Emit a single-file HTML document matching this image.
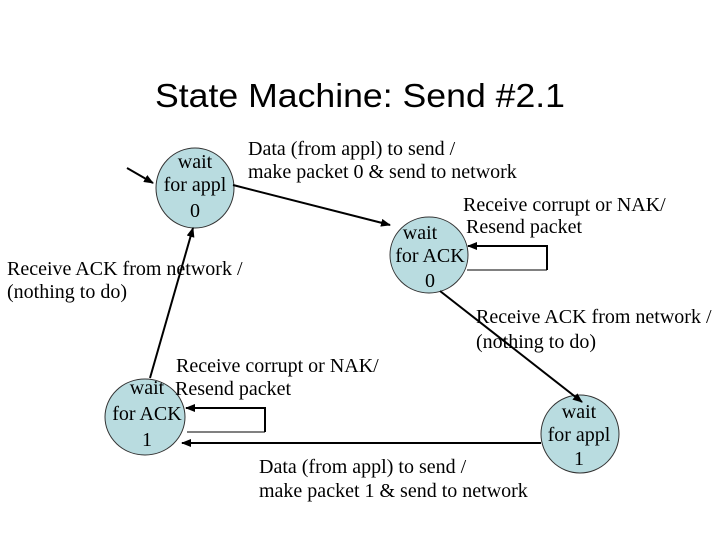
<!DOCTYPE html>
<html><head><style>body{margin:0;background:#fff}svg{display:block}</style></head>
<body>
<svg width="720" height="540" xmlns="http://www.w3.org/2000/svg">
<defs><marker id="a" markerWidth="10" markerHeight="8" refX="9" refY="4" orient="auto" markerUnits="userSpaceOnUse"><path d="M0,0 L10,4 L0,8 z" fill="#000"/></marker></defs>
<text x="155" y="107" font-family="Liberation Sans, sans-serif" font-size="33" textLength="410" lengthAdjust="spacingAndGlyphs">State Machine: Send #2.1</text>
<g fill="#b9dce0" stroke="#333" stroke-width="1">
<ellipse cx="195" cy="188" rx="39" ry="40"/>
<ellipse cx="429" cy="255" rx="39" ry="38"/>
<ellipse cx="145" cy="417" rx="40" ry="38"/>
<ellipse cx="580" cy="434" rx="39" ry="39"/>
</g>
<g stroke="#000" stroke-width="2" fill="none">
<line x1="127" y1="168" x2="153" y2="183" marker-end="url(#a)"/>
<line x1="233" y1="185" x2="390" y2="225" marker-end="url(#a)"/>
<line x1="440" y1="291" x2="582" y2="402" marker-end="url(#a)"/>
<line x1="150" y1="378" x2="193" y2="228" marker-end="url(#a)"/>
<line x1="541" y1="443" x2="182" y2="443" marker-end="url(#a)"/>
<polyline points="547,270 547,246 468,246" marker-end="url(#a)"/>
<polyline points="265,432 265,408 186,408" marker-end="url(#a)"/>
</g>
<g stroke="#000" stroke-width="1"><line x1="467" y1="270" x2="547" y2="270"/><line x1="187" y1="432" x2="265" y2="432"/></g>
<g font-family="Liberation Serif, serif" font-size="20" text-anchor="middle">
<text x="195" y="168">wait</text><text x="195" y="191">for appl</text><text x="195" y="217">0</text>
<text x="420" y="239">wait</text><text x="430" y="262">for ACK</text><text x="430" y="287">0</text>
<text x="147" y="394">wait</text><text x="147" y="420">for ACK</text><text x="147" y="446">1</text>
<text x="579" y="418">wait</text><text x="579" y="441">for appl</text><text x="579" y="465">1</text>
</g>
<g font-family="Liberation Serif, serif" font-size="20">
<text x="248" y="155">Data (from appl) to send /</text>
<text x="248" y="178">make packet 0 &amp; send to network</text>
<text x="463" y="211">Receive corrupt or NAK/</text>
<text x="466" y="233">Resend packet</text>
<text x="7" y="275">Receive ACK from network /</text>
<text x="7" y="298">(nothing to do)</text>
<text x="476" y="323">Receive ACK from network /</text>
<text x="476" y="348">(nothing to do)</text>
<text x="176" y="372">Receive corrupt or NAK/</text>
<text x="175" y="395">Resend packet</text>
<text x="259" y="473">Data (from appl) to send /</text>
<text x="259" y="497">make packet 1 &amp; send to network</text>
</g>
</svg>
</body></html>
